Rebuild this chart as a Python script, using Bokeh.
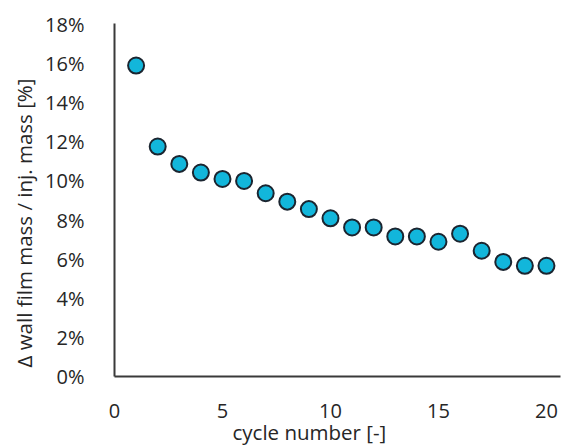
from bokeh.plotting import figure
from bokeh.models import NumeralTickFormatter, FixedTicker, Range1d, Title
from bokeh.embed import file_html
from bokeh.resources import INLINE

cycles = list(range(1, 21))
film_ratio = [0.159, 0.1176, 0.1087, 0.1043, 0.101, 0.100, 0.0937, 0.0894, 0.0856, 0.0809,
              0.0762, 0.0762, 0.0716, 0.0716, 0.0689, 0.0730, 0.0643, 0.0586, 0.0566, 0.0566]
x_ticks = [0, 5, 10, 15, 20]
y_ticks = [0, 0.02, 0.04, 0.06, 0.08, 0.10, 0.12, 0.14, 0.16, 0.18]
x_title = "cycle number [-]"
y_title = "Δ wall film mass / inj. mass [%]"

FONT = "Open Sans"
TXT = "#262626"

p = figure(width=561, height=446, output_backend="svg", toolbar_location=None,
           x_range=Range1d(0, 20.65), y_range=Range1d(0, 0.1805),
           min_border_left=114, min_border_right=1, min_border_top=23, min_border_bottom=70)
p.outline_line_color = None
p.grid.grid_line_color = None
p.background_fill_color = "white"
p.border_fill_color = "white"

p.scatter(cycles, film_ratio, size=16, fill_color="#12B6DB", line_color="#1b2530", line_width=2)

for ax in (p.xaxis[0], p.yaxis[0]):
    ax.axis_line_color = "#3a3a3a"
    ax.axis_line_width = 2
    ax.major_tick_line_color = None
    ax.minor_tick_line_color = None
    ax.major_label_text_font = FONT
    ax.major_label_text_font_size = "20px"
    ax.major_label_text_color = TXT

p.xaxis.ticker = FixedTicker(ticks=x_ticks)
p.yaxis.ticker = FixedTicker(ticks=y_ticks)
p.yaxis.formatter = NumeralTickFormatter(format="0%")
p.xaxis.major_label_standoff = 21
p.yaxis.major_label_standoff = 24

p.add_layout(Title(text=x_title, align="left", offset=118, standoff=-10,
                   text_font=FONT, text_font_size="20.5px", text_font_style="normal",
                   text_color=TXT), "below")
p.add_layout(Title(text=y_title, align="left", offset=9, standoff=10,
                   text_font=FONT, text_font_size="20.5px", text_font_style="normal",
                   text_color=TXT), "left")

open("out.html", "w").write(file_html(p, INLINE))
